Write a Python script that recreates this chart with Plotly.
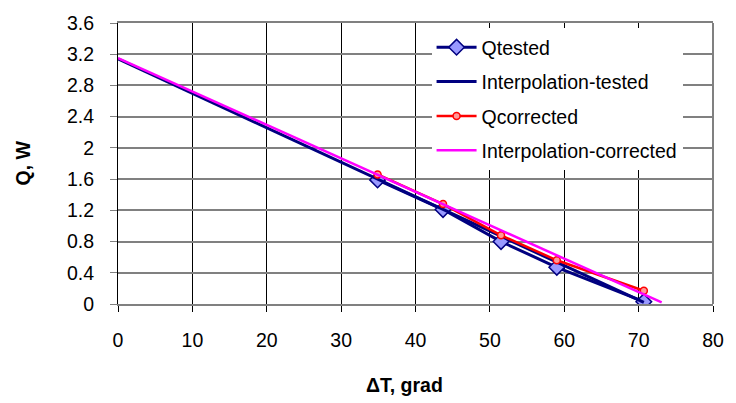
import plotly.graph_objects as go

# Measured heat flow vs. temperature difference
dt_tested = [34.9, 43.7, 51.5, 59.0, 70.7]
q_tested = [1.59, 1.21, 0.80, 0.47, 0.03]

dt_corrected = [34.9, 43.7, 51.5, 59.0, 70.7]
q_corrected = [1.66, 1.28, 0.88, 0.56, 0.17]

# Linear fits, evaluated at their end points
fit_tested_dt = [0, 70.7]
fit_tested_q = [3.14, 0.02]
fit_corrected_dt = [0, 73.1]
fit_corrected_q = [3.15, 0.02]

x_ticks = [0, 10, 20, 30, 40, 50, 60, 70, 80]
y_ticks = [0, 0.4, 0.8, 1.2, 1.6, 2, 2.4, 2.8, 3.2, 3.6]
y_tick_text = ["0", "0.4", "0.8", "1.2", "1.6", "2", "2.4", "2.8", "3.2", "3.6"]

NAVY = "#000080"
FONT = "Liberation Sans, Arial, sans-serif"
FS = 19.5

fig = go.Figure()
fig.add_trace(go.Scatter(
    x=dt_tested, y=q_tested, name="Qtested", mode="lines+markers",
    line=dict(color=NAVY, width=3),
    marker=dict(symbol="diamond", size=12, color="#9999FF",
                line=dict(color=NAVY, width=1.5)),
    legendgroup="a"))
fig.add_trace(go.Scatter(
    x=fit_tested_dt, y=fit_tested_q, name="Interpolation-tested", mode="lines",
    line=dict(color=NAVY, width=3), legendgroup="b"))
fig.add_trace(go.Scatter(
    x=dt_corrected, y=q_corrected, name="Qcorrected", mode="lines+markers",
    line=dict(color="#FF0000", width=2.5),
    marker=dict(symbol="circle", size=7, color="#FF9999",
                line=dict(color="#FF0000", width=1.5)),
    legendgroup="c"))
fig.add_trace(go.Scatter(
    x=fit_corrected_dt, y=fit_corrected_q, name="Interpolation-corrected",
    mode="lines", line=dict(color="#FF00FF", width=2.5), legendgroup="d"))

fig.update_layout(
    width=736, height=403,
    margin=dict(l=118, r=17, t=15, b=99),
    paper_bgcolor="white", plot_bgcolor="white",
    font=dict(family=FONT, size=FS, color="black"),
    legend=dict(x=0.527, y=0.982, xanchor="left", yanchor="top",
                bgcolor="white", borderwidth=0, tracegroupgap=6,
                font=dict(size=FS), itemwidth=40),
    showlegend=True,
)
fig.update_xaxes(
    range=[0, 80], tickvals=x_ticks, ticks="outside", ticklen=6,
    tickcolor="black", showgrid=True, gridcolor="black", gridwidth=1,
    showline=True, linecolor="#808080", linewidth=2, mirror=True,
    zeroline=False, ticklabelstandoff=12,
)
fig.update_yaxes(
    range=[0, 3.6], tickvals=y_ticks, ticktext=y_tick_text, ticks="outside",
    ticklen=7, tickcolor="#808080", showgrid=True, gridcolor="#808080",
    gridwidth=2, showline=True, linecolor="black", linewidth=1,
    zeroline=False, ticklabelstandoff=12,
)
# right-hand frame edge
fig.add_shape(type="line", xref="paper", yref="paper", x0=1, x1=1, y0=0, y1=1,
              line=dict(color="#808080", width=2))

fig.add_annotation(text="<b>Q, W</b>", xref="paper", yref="paper",
                   x=0, y=0.5, xanchor="center", yanchor="middle",
                   xshift=-96, textangle=-90, showarrow=False,
                   font=dict(size=FS))
fig.add_annotation(text="<b>ΔT, grad</b>", xref="paper", yref="paper",
                   x=0.481, y=0, yshift=-68, yanchor="top", showarrow=False,
                   font=dict(size=FS))

fig.write_html("out.html")
